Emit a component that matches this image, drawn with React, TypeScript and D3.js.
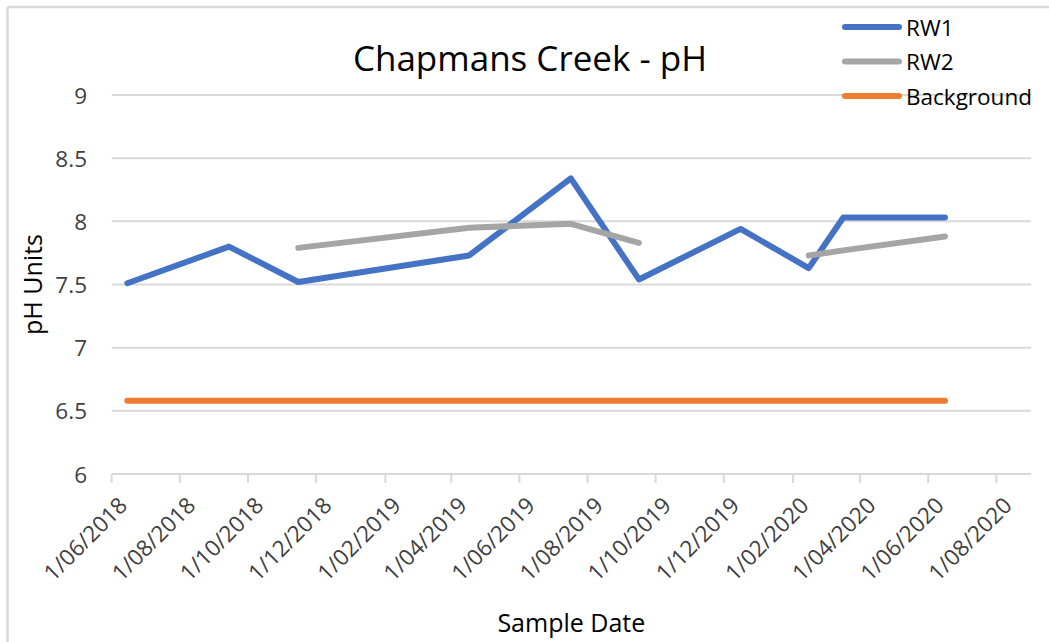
import React from "react";
import * as d3 from "d3";

const sampleDates = ["2018-06-15", "2018-09-14", "2018-11-15", "2019-04-17", "2019-07-17", "2019-09-16", "2019-12-16", "2020-02-15", "2020-03-17", "2020-06-16"];
const rw1: (number | null)[] = [7.51, 7.8, 7.52, 7.73, 8.34, 7.54, 7.94, 7.63, 8.03, 8.03];
const rw2: (number | null)[] = [null, null, 7.79, 7.95, 7.98, 7.83, null, 7.73, 7.77, 7.88];
const background: (number | null)[] = [6.58, 6.58, 6.58, 6.58, 6.58, 6.58, 6.58, 6.58, 6.58, 6.58];
const xTickDates = ["2018-06-01", "2018-08-01", "2018-10-01", "2018-12-01", "2019-02-01", "2019-04-01", "2019-06-01", "2019-08-01", "2019-10-01", "2019-12-01", "2020-02-01", "2020-04-01", "2020-06-01", "2020-08-01"];
const yTicks = [6, 6.5, 7, 7.5, 8, 8.5, 9];
const seriesNames = ["RW1", "RW2", "Background"];
const seriesColors = ["#4472C4", "#A5A5A5", "#ED7D31"];

const W = 1049, H = 642;
const FONT = "'Open Sans', sans-serif";

export default function App() {
  const parse = d3.utcParse("%Y-%m-%d");
  const fmt = d3.utcFormat("%-d/%m/%Y");
  const x = d3.scaleUtc().domain([parse("2018-06-01")!, parse("2020-09-01")!]).range([111.7, 1031]);
  const y = d3.scaleLinear().domain([6, 9]).range([474, 95]);
  const dates = sampleDates.map((d) => parse(d)!);
  const series = [rw1, rw2, background];
  const line = d3
    .line<[Date, number | null]>()
    .defined((d) => d[1] != null)
    .x((d) => x(d[0]))
    .y((d) => y(d[1] as number));
  const [x0, x1] = x.range();
  const y0 = y(6);

  return (
    <svg width={W} height={H} style={{ position: "absolute", left: 0, top: 0, background: "#fff" }} fontFamily={FONT}>
      <rect x={0} y={0} width={W} height={H} fill="#fff" />
      {/* chart border */}
      <line x1={7.5} y1={7} x2={W} y2={7} stroke="#d9d9d9" strokeWidth={2.5} />
      <line x1={7.5} y1={7} x2={7.5} y2={H} stroke="#d9d9d9" strokeWidth={2.5} />

      {/* gridlines */}
      {yTicks.map((t) => (
        <line key={t} x1={x0} x2={x1} y1={y(t)} y2={y(t)} stroke="#d9d9d9" strokeWidth={2} />
      ))}
      {/* y tick labels */}
      {yTicks.map((t) => (
        <text key={"yl" + t} x={87} y={y(t)} textAnchor="end" dominantBaseline="central" fontSize={22.5} fill="#404040">
          {String(t)}
        </text>
      ))}
      {/* x ticks */}
      {xTickDates.map((d) => {
        const xx = x(parse(d)!);
        return (
          <g key={d}>
            <line x1={xx} x2={xx} y1={y0} y2={y0 + 9} stroke="#d9d9d9" strokeWidth={2} />
            <text
              transform={`translate(${xx + 17},${y0 + 33}) rotate(-45)`}
              textAnchor="end"
              fontSize={22.5}
              fill="#404040"
            >
              {fmt(parse(d)!)}
            </text>
          </g>
        );
      })}

      {/* series */}
      {series.map((vals, i) => (
        <path
          key={seriesNames[i]}
          d={line(dates.map((d, j) => [d, vals[j]] as [Date, number | null])) || ""}
          fill="none"
          stroke={seriesColors[i]}
          strokeWidth={6}
          strokeLinecap="round"
          strokeLinejoin="round"
        />
      ))}

      {/* title */}
      <text x={530} y={57} textAnchor="middle" dominantBaseline="central" fontSize={35} fill="#000">
        Chapmans Creek - pH
      </text>

      {/* axis titles */}
      <text transform={`translate(32,${(y(6) + y(9)) / 2}) rotate(-90)`} textAnchor="middle" dominantBaseline="central" fontSize={25} fill="#000">
        pH Units
      </text>
      <text x={(x0 + x1) / 2} y={622} textAnchor="middle" dominantBaseline="central" fontSize={25} fill="#000">
        Sample Date
      </text>

      {/* legend */}
      {seriesNames.map((n, i) => {
        const ly = 27 + i * 34.5;
        return (
          <g key={"lg" + n}>
            <line x1={845} x2={899} y1={ly} y2={ly} stroke={seriesColors[i]} strokeWidth={6} strokeLinecap="round" />
            <text x={906} y={ly} dominantBaseline="central" fontSize={22.5} fill="#000">
              {n}
            </text>
          </g>
        );
      })}
    </svg>
  );
}
